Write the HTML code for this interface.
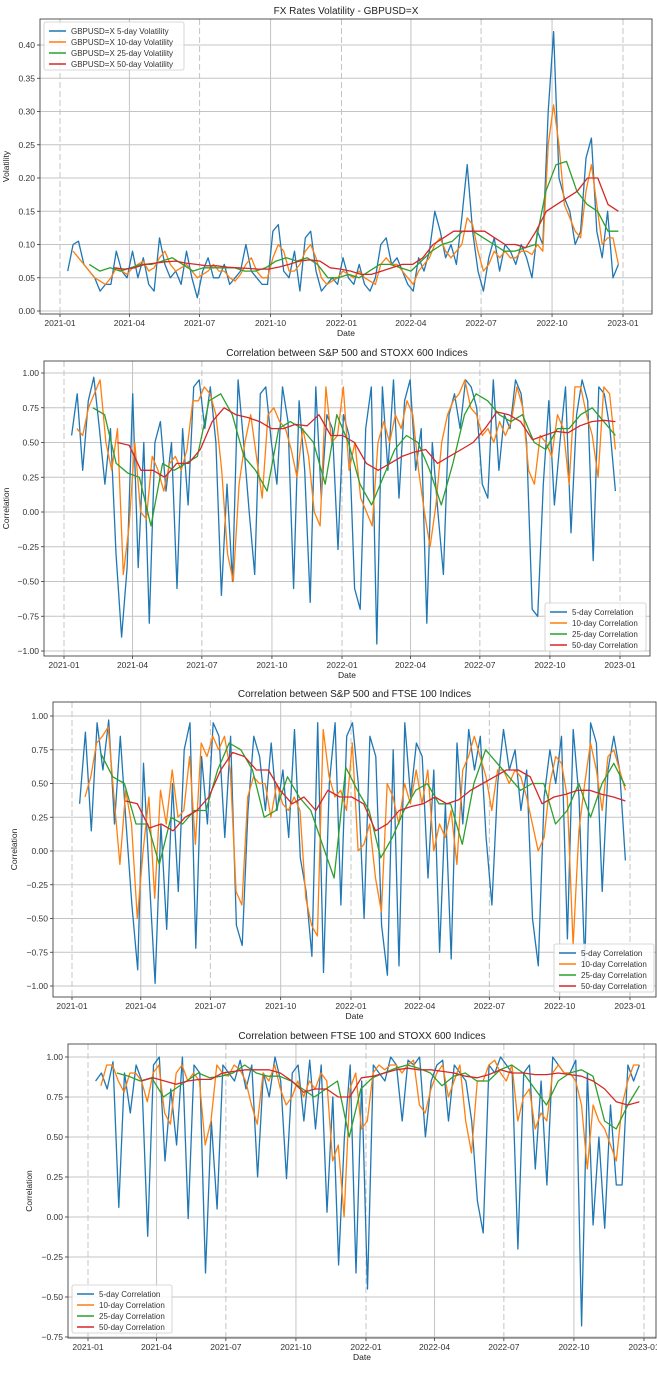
<!DOCTYPE html>
<html><head><meta charset="utf-8"><style>
html,body{margin:0;padding:0;background:#fff;}
svg{display:block;font-family:"Liberation Sans",sans-serif;}
</style></head><body>
<svg id="chart" width="657" height="1389" viewBox="0 0 657 1389" xmlns="http://www.w3.org/2000/svg"></svg>
<script>
// x-axis tick labels (days since 2021-01-01)
const xTickLabels=["2021-01","2021-04","2021-07","2021-10","2022-01","2022-04","2022-07","2022-10","2023-01"];
const xTickDays=[0,90,181,273,365,455,546,638,730];
const seriesNames=["5-day","10-day","25-day","50-day"];
const seriesColors=["#1f77b4","#ff7f0e","#2ca02c","#d62728"];
const seriesStart=[10,17,38,70];
const seriesEnd=724;

// Panel 1: GBPUSD volatility
const p1Ticks=[0,0.05,0.10,0.15,0.20,0.25,0.30,0.35,0.40];
const p1v5=[0.06,0.10,0.105,0.07,0.06,0.05,0.03,0.04,0.04,0.09,0.06,0.05,0.09,0.05,0.08,0.04,0.03,0.11,0.07,0.05,0.06,0.04,0.09,0.05,0.02,0.06,0.08,0.05,0.05,0.07,0.04,0.05,0.06,0.10,0.06,0.05,0.04,0.04,0.12,0.13,0.06,0.05,0.09,0.03,0.11,0.12,0.06,0.03,0.04,0.05,0.04,0.08,0.05,0.04,0.07,0.04,0.03,0.05,0.10,0.11,0.07,0.08,0.06,0.04,0.03,0.08,0.06,0.09,0.15,0.12,0.08,0.10,0.07,0.14,0.22,0.12,0.06,0.03,0.08,0.11,0.06,0.10,0.09,0.07,0.10,0.08,0.05,0.12,0.10,0.30,0.42,0.20,0.17,0.15,0.10,0.12,0.23,0.26,0.12,0.08,0.15,0.05,0.07];
const p1v10=[0.09,0.08,0.07,0.06,0.05,0.045,0.04,0.05,0.065,0.06,0.055,0.065,0.07,0.075,0.06,0.065,0.08,0.09,0.07,0.06,0.065,0.07,0.06,0.05,0.055,0.06,0.07,0.06,0.06,0.05,0.045,0.055,0.07,0.08,0.06,0.05,0.05,0.08,0.10,0.09,0.06,0.06,0.07,0.09,0.10,0.08,0.05,0.04,0.045,0.05,0.06,0.055,0.05,0.06,0.05,0.045,0.04,0.07,0.08,0.07,0.07,0.06,0.05,0.04,0.06,0.07,0.08,0.10,0.11,0.09,0.08,0.09,0.10,0.14,0.13,0.09,0.06,0.07,0.09,0.08,0.09,0.08,0.08,0.09,0.09,0.085,0.10,0.09,0.25,0.31,0.25,0.16,0.14,0.12,0.11,0.18,0.22,0.16,0.10,0.11,0.11,0.07];
const p1v25=[0.07,0.06,0.065,0.06,0.065,0.07,0.07,0.075,0.08,0.07,0.06,0.065,0.065,0.065,0.065,0.06,0.06,0.065,0.075,0.08,0.075,0.08,0.07,0.05,0.05,0.055,0.05,0.06,0.07,0.07,0.065,0.06,0.075,0.09,0.10,0.105,0.12,0.12,0.11,0.10,0.09,0.09,0.095,0.10,0.18,0.22,0.225,0.18,0.16,0.15,0.12,0.12];
const p1v50=[0.065,0.063,0.065,0.07,0.072,0.074,0.075,0.072,0.07,0.068,0.068,0.066,0.065,0.064,0.063,0.063,0.066,0.07,0.075,0.077,0.075,0.065,0.063,0.06,0.055,0.055,0.06,0.065,0.07,0.07,0.08,0.10,0.11,0.12,0.12,0.12,0.12,0.11,0.10,0.10,0.095,0.12,0.15,0.16,0.17,0.18,0.20,0.20,0.16,0.15];

// Panel 2: S&P 500 vs STOXX 600
const corrTicks=[-1,-0.75,-0.5,-0.25,0,0.25,0.5,0.75,1];
const p2v5=[0.55,0.85,0.3,0.8,0.97,0.6,0.2,0.6,-0.3,-0.9,-0.4,0.85,-0.4,0.5,-0.8,0.5,0.65,0.15,0.5,-0.55,0.6,0.05,0.9,0.95,0.6,0.9,0.5,-0.6,0.2,-0.5,0.95,0.5,0.0,-0.45,0.85,0.9,0.5,0.2,0.9,0.65,-0.55,0.8,0.3,-0.65,0.9,0.1,0.7,0.6,-0.27,0.7,0.55,-0.55,-0.7,0.6,0.9,-0.95,0.9,0.3,0.95,0.1,0.8,0.95,0.3,0.6,-0.8,0.5,0.0,-0.45,0.7,0.85,0.6,0.95,0.9,0.75,0.2,0.1,0.95,0.3,0.7,0.6,0.95,0.85,0.5,-0.7,-0.75,0.2,0.8,0.05,0.5,0.9,-0.15,0.7,0.95,0.8,-0.35,0.9,0.85,0.6,0.15];
const p2v10=[0.6,0.55,0.75,0.85,0.95,0.5,0.3,0.6,-0.45,-0.1,0.5,0.0,-0.05,0.4,0.3,0.15,0.35,0.4,0.3,0.45,0.8,0.8,0.9,0.85,0.7,0.3,-0.3,-0.5,0.2,0.5,0.7,0.4,0.1,0.7,0.75,0.65,0.6,0.45,0.25,0.6,0.4,0.0,-0.1,0.9,0.5,0.55,0.9,0.3,0.5,0.1,0.0,-0.1,0.5,0.65,0.5,0.7,0.6,0.8,0.7,0.3,0.0,-0.25,0.05,0.5,0.7,0.8,0.85,0.95,0.75,0.7,0.55,0.6,0.5,0.65,0.55,0.65,0.9,0.75,0.3,0.2,0.55,0.5,0.4,0.7,0.6,0.2,0.9,0.9,0.7,0.55,0.25,0.9,0.85,0.45];
const p2v25=[0.75,0.7,0.35,0.28,0.25,-0.1,0.35,0.3,0.35,0.4,0.8,0.85,0.7,0.4,0.3,0.15,0.6,0.65,0.6,0.5,0.2,0.7,0.5,0.2,0.05,0.25,0.45,0.55,0.5,0.3,0.05,0.35,0.7,0.85,0.8,0.7,0.65,0.7,0.5,0.45,0.6,0.6,0.7,0.75,0.65,0.55];
const p2v50=[0.5,0.48,0.3,0.3,0.25,0.35,0.35,0.45,0.65,0.75,0.7,0.68,0.65,0.6,0.6,0.63,0.62,0.7,0.55,0.55,0.5,0.35,0.3,0.35,0.4,0.43,0.45,0.35,0.4,0.45,0.5,0.6,0.72,0.7,0.65,0.52,0.55,0.58,0.57,0.62,0.65,0.66,0.65];

// Panel 3: S&P 500 vs FTSE 100
const p3v5=[0.35,0.88,0.15,0.95,0.6,0.97,0.2,0.85,0.2,-0.4,-0.88,0.65,-0.2,-0.98,0.2,-0.58,0.5,-0.3,0.75,0.95,-0.72,0.7,0.2,0.95,0.85,0.1,0.85,-0.55,-0.7,0.3,0.85,0.7,0.3,0.8,0.3,0.6,0.1,0.9,-0.05,-0.3,-0.78,0.95,-0.9,0.5,0.95,-0.4,0.85,0.95,0.5,-0.5,0.85,0.7,-0.55,-0.92,0.75,-0.85,0.95,0.4,0.8,0.7,-0.2,0.6,-0.75,0.35,-0.8,0.8,0.2,0.9,0.6,0.85,0.1,-0.4,0.5,0.9,0.6,0.75,0.3,0.6,-0.5,-0.85,0.4,0.75,0.5,0.85,-0.65,0.9,0.4,-0.85,0.95,0.8,-0.3,0.6,0.85,0.6,-0.07];
const p3v10=[0.4,0.55,0.8,0.85,0.92,0.4,-0.1,0.45,0.2,-0.5,0.0,0.4,-0.35,0.45,0.2,0.6,0.25,0.3,0.7,0.05,0.8,0.7,0.85,0.75,0.85,0.6,-0.3,-0.4,0.4,0.55,0.5,0.5,0.25,0.5,0.35,0.3,0.4,0.3,-0.35,-0.55,-0.63,0.9,0.55,0.4,0.45,0.3,0.8,0.0,0.05,0.2,-0.2,-0.45,0.5,0.4,0.2,0.5,0.35,0.6,0.35,0.6,0.0,0.2,0.1,0.3,-0.1,0.6,0.7,0.85,0.7,0.55,0.3,0.6,0.6,0.5,0.6,0.55,0.4,0.2,0.0,0.1,0.5,0.7,0.65,0.4,-0.7,0.15,0.5,0.8,0.6,0.3,0.7,0.75,0.6,0.45];
const p3v25=[0.72,0.55,0.5,0.2,0.2,-0.1,0.25,0.2,0.3,0.3,0.6,0.8,0.75,0.6,0.25,0.3,0.55,0.4,0.3,0.05,-0.2,0.62,0.45,0.3,-0.05,0.1,0.3,0.45,0.5,0.35,0.35,0.05,0.5,0.75,0.65,0.55,0.45,0.5,0.5,0.2,0.3,0.5,0.25,0.5,0.65,0.48];
const p3v50=[0.37,0.35,0.17,0.2,0.15,0.25,0.3,0.4,0.6,0.73,0.7,0.6,0.6,0.45,0.35,0.4,0.3,0.45,0.4,0.4,0.35,0.15,0.2,0.3,0.33,0.35,0.4,0.35,0.38,0.45,0.5,0.55,0.6,0.6,0.55,0.35,0.4,0.42,0.45,0.45,0.42,0.4,0.37];

// Panel 4: FTSE 100 vs STOXX 600
const p4Ticks=[-0.75,-0.5,-0.25,0,0.25,0.5,0.75,1];
const p4v5=[0.85,0.9,0.8,0.97,0.06,0.9,0.65,0.95,0.85,-0.12,0.95,1.0,0.35,0.8,0.45,1.0,-0.01,0.95,0.9,-0.35,0.6,0.05,0.95,0.9,0.85,0.98,0.8,0.95,0.25,0.9,0.75,1.0,0.85,0.24,0.9,0.95,0.6,0.98,0.55,0.95,0.03,0.75,-0.3,0.5,0.95,-0.35,0.85,-0.45,0.95,0.9,0.85,1.0,0.95,0.6,0.98,0.95,1.0,0.5,0.85,0.95,0.98,0.6,0.95,0.9,0.85,0.6,0.1,-0.1,0.95,0.9,1.0,0.95,0.9,-0.2,0.9,0.95,0.3,0.85,0.2,1.0,0.95,0.9,0.9,0.98,-0.68,0.9,-0.05,0.5,-0.07,0.7,0.2,0.2,0.95,0.85,0.95];
const p4v10=[0.82,0.95,0.95,0.85,0.78,0.9,0.9,0.85,0.72,0.9,0.95,0.65,0.58,0.9,0.95,0.85,0.9,0.85,0.45,0.6,0.95,0.9,0.88,0.95,0.92,0.85,0.7,0.58,0.9,0.85,0.95,0.8,0.7,0.75,0.85,0.75,0.85,0.8,0.9,0.85,0.35,0.45,0.0,0.8,0.9,0.55,0.6,0.9,0.95,0.92,0.95,0.95,0.9,0.95,0.98,0.7,0.65,0.8,0.9,0.95,0.75,0.85,0.95,0.6,0.4,0.85,0.85,0.95,0.98,0.9,0.85,0.95,0.6,0.75,0.8,0.55,0.65,0.6,0.9,0.95,0.9,0.9,0.85,0.7,0.3,0.7,0.6,0.55,0.45,0.35,0.7,0.85,0.95,0.95];
const p4v25=[0.9,0.88,0.85,0.87,0.75,0.8,0.85,0.9,0.87,0.88,0.9,0.95,0.9,0.88,0.88,0.85,0.8,0.75,0.8,0.85,0.5,0.8,0.87,0.9,0.93,0.95,0.93,0.9,0.82,0.88,0.9,0.85,0.85,0.92,0.95,0.9,0.8,0.7,0.85,0.9,0.92,0.88,0.6,0.55,0.7,0.82];
const p4v50=[0.85,0.87,0.85,0.83,0.85,0.86,0.86,0.9,0.91,0.92,0.92,0.92,0.9,0.85,0.78,0.8,0.8,0.75,0.75,0.87,0.88,0.9,0.92,0.93,0.92,0.92,0.91,0.9,0.88,0.87,0.89,0.92,0.9,0.9,0.89,0.89,0.9,0.89,0.88,0.85,0.8,0.72,0.7,0.72];

const NS="http://www.w3.org/2000/svg";
const svg=document.getElementById('chart');
function mk(tag,attrs,parent,text){const e=document.createElementNS(NS,tag);for(const k in attrs)e.setAttribute(k,attrs[k]);if(text!==undefined)e.textContent=text;(parent||svg).appendChild(e);return e;}

function drawPanel(p){
  const g=mk('g',{});
  
  
  const xScale=d=>p.x0+(d/730)*(p.x730-p.x0);
  const yScale=v=>p.yA+(v-p.vA)/(p.vB-p.vA)*(p.yB-p.yA);
  // grid
  p.ticks.forEach(t=>{const y=yScale(t);
    const l=mk('line',{x1:p.L,x2:p.R,y1:y,y2:y,stroke:'#c4c4c4','stroke-width':1},g);
    
    mk('line',{x1:p.L-3,x2:p.L,y1:y,y2:y,stroke:'#333','stroke-width':0.8},g);
    const tx=mk('text',{x:p.L-5,y:y+3,'font-size':8.5,'text-anchor':'end',fill:'#333'},g,(t<0?'\u2212'+Math.abs(t).toFixed(2):t.toFixed(2)));
    
  });
  xTickDays.forEach((d,i)=>{const x=xScale(d);
    const l=mk('line',{x1:x,x2:x,y1:p.T,y2:p.B,stroke:'#c4c4c4','stroke-width':1,'stroke-dasharray':(i%2?'none':'6,3')},g);
    
    mk('line',{x1:x,x2:x,y1:p.B,y2:p.B+3,stroke:'#333','stroke-width':0.8},g);
    const tx=mk('text',{x:x,y:p.B+12,'font-size':8.5,'text-anchor':'middle',fill:'#333'},g,xTickLabels[i]);
    
  });
  // series
  p.series.forEach((vals,si)=>{
    const s=seriesStart[si],n=vals.length;
    const pts=vals.map((v,i)=>{const d=s+i*(seriesEnd-s)/(n-1);return xScale(d).toFixed(1)+','+yScale(v).toFixed(1);}).join(' ');
    const pl=mk('polyline',{points:pts,fill:'none',stroke:seriesColors[si],'stroke-width':1.3,'stroke-linejoin':'round'},g);
    
    
  });
  // frame
  const fr=mk('rect',{x:p.L,y:p.T,width:p.R-p.L,height:p.B-p.T,fill:'none',stroke:'#444','stroke-width':0.9},g);
  
  const ti=mk('text',{x:(p.L+p.R)/2,y:p.T-5,'font-size':10,'text-anchor':'middle',fill:'#222'},g,p.title);
  
  const yl=mk('text',{x:p.ylx,y:(p.T+p.B)/2,'font-size':8.5,'text-anchor':'middle',fill:'#222',transform:'rotate(-90 '+p.ylx+' '+((p.T+p.B)/2)+')'},g,p.ylabel);
  
  const xl=mk('text',{x:(p.L+p.R)/2,y:p.B+22,'font-size':8.5,'text-anchor':'middle',fill:'#222'},g,'Date');
  
  // legend
  const lg=mk('g',{},g);
  
  mk('rect',{x:p.lx,y:p.ly,width:p.lw,height:48,fill:'#fff','fill-opacity':0.85,stroke:'#ccc','stroke-width':0.8,rx:2},lg);
  p.labels.forEach((lab,i)=>{const y=p.ly+9+i*11;
    const it=mk('g',{},lg);
    
    mk('line',{x1:p.lx+5,x2:p.lx+22,y1:y,y2:y,stroke:seriesColors[i],'stroke-width':1.5},it);
    mk('text',{x:p.lx+27,y:y+3,'font-size':8,fill:'#333'},it,lab);
  });
}
const corrLabels=seriesNames.map(s=>s+' Correlation');
drawPanel({id:'fx-volatility',L:40,R:652,T:19,B:314,x0:60,x730:623,yA:311,vA:0,yB:45,vB:0.40,ticks:p1Ticks,
  series:[p1v5,p1v10,p1v25,p1v50],title:'FX Rates Volatility - GBPUSD=X',ylabel:'Volatility',ylx:9,
  lx:44,ly:22,lw:140,labels:seriesNames.map(s=>'GBPUSD=X '+s+' Volatility')});
drawPanel({id:'sp500-stoxx600',L:44,R:650,T:361,B:656,x0:64,x730:620,yA:651,vA:-1,yB:373,vB:1,ticks:corrTicks,
  series:[p2v5,p2v10,p2v25,p2v50],title:'Correlation between S&P 500 and STOXX 600 Indices',ylabel:'Correlation',ylx:9,
  lx:545,ly:603,lw:101,labels:corrLabels});
drawPanel({id:'sp500-ftse100',L:53,R:656,T:702,B:997,x0:72,x730:630,yA:986,vA:-1,yB:716,vB:1,ticks:corrTicks,
  series:[p3v5,p3v10,p3v25,p3v50],title:'Correlation between S&P 500 and FTSE 100 Indices',ylabel:'Correlation',ylx:17,
  lx:554,ly:944,lw:100,labels:corrLabels});
drawPanel({id:'ftse100-stoxx600',L:68,R:656,T:1044,B:1338,x0:88,x730:644,yA:1337,vA:-0.75,yB:1057,vB:1,ticks:p4Ticks,
  series:[p4v5,p4v10,p4v25,p4v50],title:'Correlation between FTSE 100 and STOXX 600 Indices',ylabel:'Correlation',ylx:32,
  lx:72,ly:1285,lw:100,labels:corrLabels});
</script>
</body></html>
